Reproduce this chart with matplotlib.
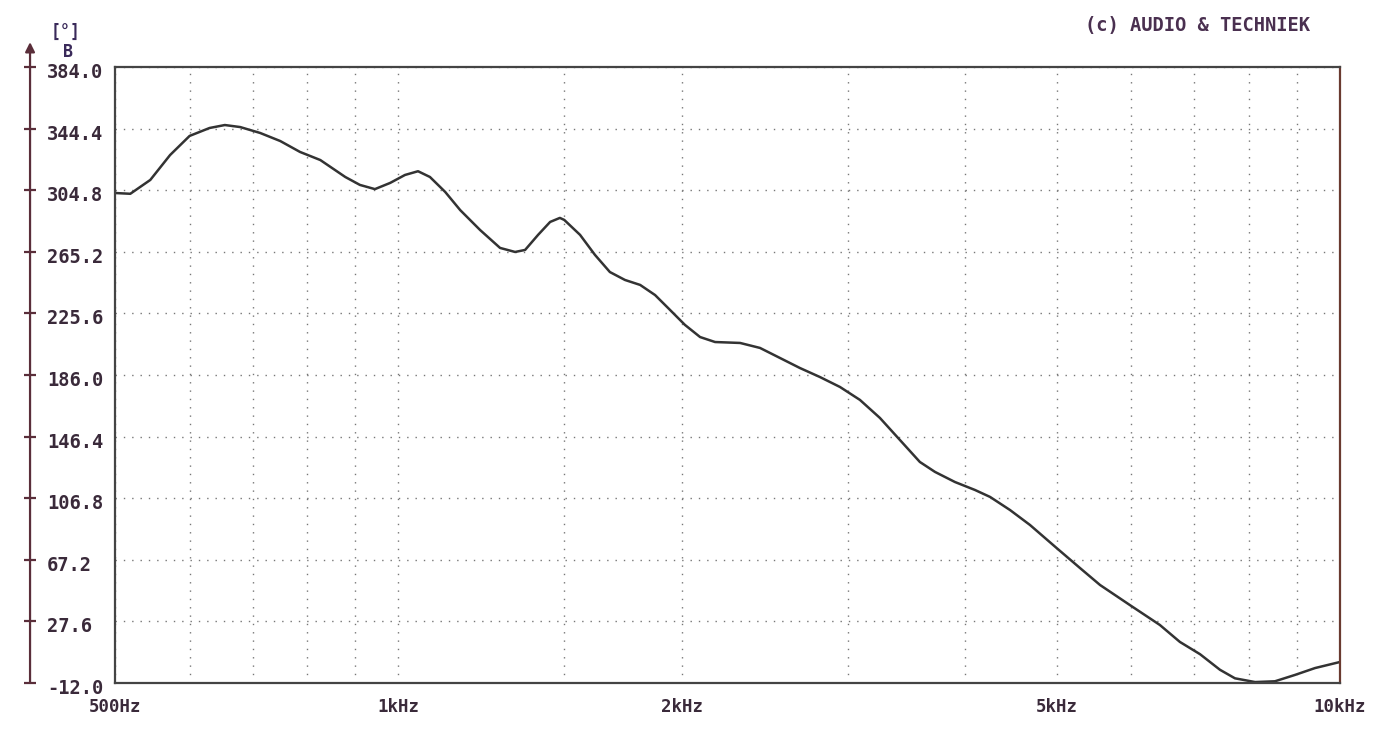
import matplotlib.pyplot as plt
import matplotlib.transforms as mtransforms
import numpy as np

# Curve (frequency in Hz, value)
freq = [500, 519, 545, 572, 600, 630, 654, 679, 713, 749, 786, 826, 878, 910, 944,
        980, 1016, 1049, 1080, 1121, 1163, 1221, 1282, 1330, 1363, 1407, 1449, 1484,
        1500, 1559, 1617, 1677, 1740, 1806, 1873, 1943, 2015, 2091, 2169, 2306, 2421,
        2543, 2669, 2803, 2944, 3091, 3246, 3409, 3579, 3714, 3900, 4095, 4250, 4462,
        4685, 5000, 5295, 5561, 5982, 6437, 6760, 7102, 7456, 7735, 8125, 8530, 8960,
        9408, 10000]
value = [303.0, 302.5, 311.4, 327.4, 339.7, 344.8, 346.7, 345.4, 341.6, 336.4, 329.4,
         324.2, 313.3, 308.2, 305.5, 309.5, 314.6, 317.0, 313.3, 303.7, 292.0, 279.2,
         267.7, 265.1, 266.4, 276.1, 284.4, 287.0, 285.7, 276.1, 263.2, 252.2, 247.1,
         243.9, 237.4, 227.8, 218.2, 210.4, 207.2, 206.6, 203.4, 196.9, 190.5, 184.7,
         178.3, 170.0, 158.4, 144.2, 130.1, 123.7, 117.2, 112.1, 107.6, 99.2, 89.6,
         74.8, 61.9, 51.0, 38.1, 25.3, 14.4, 6.5, -3.5, -9.0, -11.4, -10.9, -6.8,
         -2.4, 1.5]

yticks = [384.0, 344.4, 304.8, 265.2, 225.6, 186.0, 146.4, 106.8, 67.2, 27.6, -12.0]
xticks = [500, 1000, 2000, 5000, 10000]
xlabels = ['500Hz', '1kHz', '2kHz', '5kHz', '10kHz']
xminor = [600, 700, 800, 900, 1500, 3000, 4000, 6000, 7000, 8000, 9000]

ink = '#333333'
axis_col = '#5a2e3a'
text_col = '#3a2a3a'
mono = 'DejaVu Sans Mono'

fig = plt.figure(figsize=(13.98, 7.30), dpi=100)
ax = fig.add_axes([0.0823, 0.0644, 0.8762, 0.8438])

ax.plot(freq, value, color=ink, lw=1.8, solid_joinstyle='round')

ax.set_xscale('log')
ax.set_xlim(500, 10000)
ax.set_ylim(-12.0, 384.0)

ax.set_xticks(xticks)
ax.set_xticklabels(xlabels, fontfamily=mono, fontweight='bold', fontsize=12.5, color=text_col)
ax.set_xticks(xminor, minor=True)
ax.set_xticklabels([], minor=True)
ax.tick_params(axis='x', which='both', length=0, pad=11)

ax.set_yticks(yticks)
ax.set_yticklabels([])
ax.tick_params(axis='y', length=0)

ax.grid(True, which='both', color='#777777', lw=1.0, linestyle=(0, (1, 5)))

for side in ['top', 'bottom', 'left']:
    ax.spines[side].set_color('#444444')
    ax.spines[side].set_linewidth(1.6)
ax.spines['right'].set_color('#6a3a30')
ax.spines['right'].set_linewidth(1.6)

# separate y axis with arrow on the far left
trans = mtransforms.blended_transform_factory(ax.transAxes, ax.transData)
xa = -0.0694
ax.annotate('', xy=(xa, 400), xytext=(xa, -12.0), xycoords=trans, textcoords=trans,
            arrowprops=dict(arrowstyle='-|>', color=axis_col, lw=1.6,
                            mutation_scale=14, shrinkA=0, shrinkB=0),
            annotation_clip=False)
ax.plot([xa] * len(yticks), yticks, transform=trans, marker='_', markersize=9,
        markeredgewidth=1.6, color=axis_col, linestyle='none', clip_on=False)

# y labels sit a little below their grid line, as in the reference
label_trans = trans + mtransforms.ScaledTranslation(0, -4 / 72, fig.dpi_scale_trans)
for v in yticks:
    ax.text(-0.0555, v, f'{v:.1f}', transform=label_trans, ha='left', va='center',
            fontfamily=mono, fontweight='bold', fontsize=13.5, color=text_col,
            clip_on=False)

fig.text(0.036, 0.956, '[°]', fontfamily=mono, fontweight='bold', fontsize=12,
         color='#3a2a5a', va='center')
fig.text(0.045, 0.929, 'B', fontfamily=mono, fontweight='bold', fontsize=12,
         color='#3a2a5a', va='center')
fig.text(0.776, 0.958, '(c) AUDIO & TECHNIEK', fontfamily=mono, fontweight='bold',
         fontsize=13.5, color='#4a3050')

fig.savefig('out.png', dpi=100, facecolor='white')
